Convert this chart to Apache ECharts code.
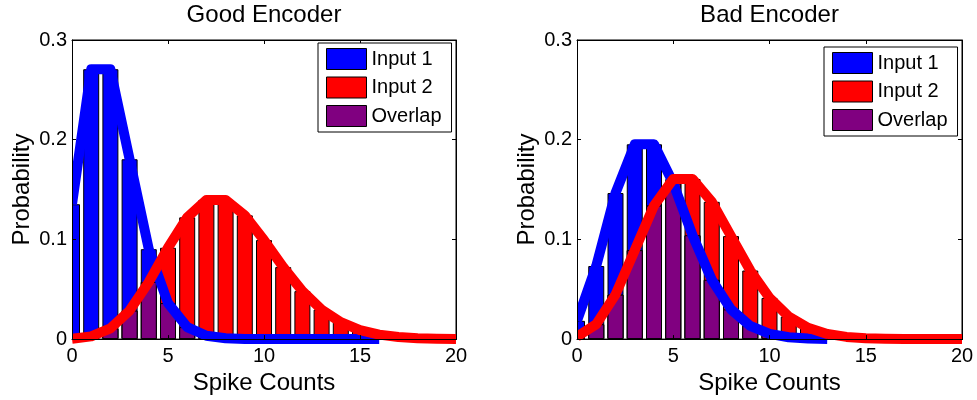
<!DOCTYPE html>
<html>
<head>
<meta charset="utf-8">
<script src="https://cdn.jsdelivr.net/npm/echarts@6/dist/echarts.min.js"></script>
<style>
  html, body { margin: 0; padding: 0; background: #fff; }
  #chart { width: 977px; height: 400px; }
</style>
</head>
<body>
<div id="chart"></div>
<script>
// Spike counts on the x axis
const counts = [0, 1, 2, 3, 4, 5, 6, 7, 8, 9, 10, 11, 12, 13, 14, 15, 16, 17, 18, 19, 20];

// Good encoder: response probabilities for each input
const goodInput1 = [0.1353, 0.2707, 0.2707, 0.1804, 0.0902, 0.0361, 0.0120, 0.0034, 0.0009, 0.0002,
                    0.0000, 0.0000, 0.0000, 0.0000, 0.0000, 0.0000, 0.0000];
const goodInput2 = [0.0003, 0.0027, 0.0107, 0.0286, 0.0573, 0.0916, 0.1221, 0.1396, 0.1396, 0.1241,
                    0.0993, 0.0722, 0.0481, 0.0296, 0.0169, 0.0090, 0.0045, 0.0021, 0.0009, 0.0004, 0.0002];

// Bad encoder: response probabilities for each input
const badInput1 = [0.0183, 0.0733, 0.1465, 0.1954, 0.1954, 0.1563, 0.1042, 0.0595, 0.0298, 0.0132,
                   0.0053, 0.0019, 0.0006, 0.0002];
const badInput2 = [0.0025, 0.0149, 0.0446, 0.0892, 0.1339, 0.1606, 0.1606, 0.1377, 0.1033, 0.0688,
                   0.0413, 0.0225, 0.0113, 0.0052, 0.0022, 0.0009, 0.0003, 0.0001, 0.0000, 0.0000, 0.0000];

// Tick labels
const xTicks = [0, 5, 10, 15, 20];
const yTicks = [0, 0.1, 0.2, 0.3];

const panelTitles = ['Good Encoder', 'Bad Encoder'];
const legendNames = ['Input 1', 'Input 2', 'Overlap'];

const FONT = "'Liberation Sans', Arial, Helvetica, sans-serif";
const BLUE = '#0000FF', RED = '#FF0000', PURPLE = '#800080';
const CURVE_WIDTH = 10;

const grids = [
  { left: 72, top: 40, width: 384, height: 305 },
  { left: 577, top: 40, width: 385, height: 305 }
];

const chart = echarts.init(document.getElementById('chart'), null, { renderer: 'canvas' });

const at = (arr, i) => (i < arr.length ? arr[i] : 0);

function panelSeries(gi, p1, p2) {
  const common = { xAxisIndex: gi, yAxisIndex: gi, silent: true, animation: false };
  const bar = (name, data, color) => Object.assign({
    type: 'bar', name, data, barWidth: 16, barGap: '-100%', clip: true,
    itemStyle: { color, borderColor: '#000', borderWidth: 1 }, z: 2
  }, common);
  const line = (name, arr, color) => Object.assign({
    type: 'line', name, data: arr.map((v, i) => [counts[i], v]),
    symbol: 'none', showSymbol: false, clip: true,
    lineStyle: { color, width: CURVE_WIDTH, join: 'round', cap: 'butt' }, z: 3
  }, common);
  return [
    bar('Input 1', counts.map(k => [k, at(p1, k)]), BLUE),
    bar('Input 2', counts.map(k => [k, at(p2, k)]), RED),
    bar('Overlap', counts.map(k => [k, Math.min(at(p1, k), at(p2, k))]), PURPLE),
    line('Input 1 curve', p1, BLUE),
    line('Input 2 curve', p2, RED)
  ];
}

function xAxisFor(gi, position, labels) {
  return {
    type: 'value', gridIndex: gi, position, z: 200,
    min: xTicks[0], max: xTicks[xTicks.length - 1], interval: xTicks[1] - xTicks[0],
    axisLine: { show: true, onZero: false, lineStyle: { color: '#000', width: 1 } },
    axisTick: { show: true, inside: true, length: 4, lineStyle: { color: '#000' } },
    splitLine: { show: false },
    axisLabel: { show: labels, color: '#000', fontSize: 20, fontFamily: FONT, margin: 7 },
    name: labels ? 'Spike Counts' : '', nameLocation: 'middle', nameGap: 28,
    nameTextStyle: { color: '#000', fontSize: 24, fontFamily: FONT }
  };
}
function yAxisFor(gi, position, labels) {
  return {
    type: 'value', gridIndex: gi, position, z: 200,
    min: yTicks[0], max: yTicks[yTicks.length - 1], interval: yTicks[1] - yTicks[0],
    axisLine: { show: true, onZero: false, lineStyle: { color: '#000', width: 1 } },
    axisTick: { show: true, inside: true, length: 4, lineStyle: { color: '#000' } },
    splitLine: { show: false },
    axisLabel: { show: labels, color: '#000', fontSize: 20, fontFamily: FONT, margin: 5 },
    name: labels ? 'Probability' : '', nameLocation: 'middle', nameGap: 38,
    nameTextStyle: { color: '#000', fontSize: 24, fontFamily: FONT }
  };
}

function legendFor(left, top) {
  return {
    data: legendNames, orient: 'vertical', left, top, z: 300,
    icon: 'rect', itemWidth: 40, itemHeight: 21, itemGap: 6.5,
    padding: [5, 10, 5, 8], selectedMode: false,
    borderColor: '#000', borderWidth: 1, backgroundColor: '#fff',
    itemStyle: { borderColor: '#000', borderWidth: 1 },
    textStyle: { color: '#000', fontSize: 20, fontFamily: FONT, padding: [0, 0, 0, 0] }
  };
}

// White strips that trim bars and thick curves where they run past the axes box
function trims(g) {
  const r = g.left + g.width, b = g.top + g.height;
  const s = { fill: '#fff' };
  return [
    { type: 'rect', z: 100, silent: true, shape: { x: g.left - 10, y: g.top - 6, width: 10, height: g.height + 13 }, style: s },
    { type: 'rect', z: 100, silent: true, shape: { x: r + 1, y: g.top - 6, width: 10, height: g.height + 13 }, style: s },
    { type: 'rect', z: 100, silent: true, shape: { x: g.left - 10, y: b + 1, width: g.width + 21, height: 6 }, style: s }
  ];
}

function titleText(g, text) {
  return {
    type: 'text', z: 100, silent: true,
    x: g.left + g.width / 2, y: 15,
    style: { text, fill: '#000', font: '24px ' + FONT, align: 'center', verticalAlign: 'middle' }
  };
}

const option = {
  backgroundColor: '#fff',
  animation: false,
  grid: grids.map(g => Object.assign({
    containLabel: false, show: true, borderColor: '#000', borderWidth: 1, backgroundColor: 'transparent'
  }, g)),
  xAxis: [xAxisFor(0, 'bottom', true), xAxisFor(1, 'bottom', true), xAxisFor(0, 'top', false), xAxisFor(1, 'top', false)],
  yAxis: [yAxisFor(0, 'left', true), yAxisFor(1, 'left', true), yAxisFor(0, 'right', false), yAxisFor(1, 'right', false)],
  legend: [legendFor(318, 43), legendFor(824, 47)],
  graphic: [
    ...trims(grids[0]), ...trims(grids[1]),
    titleText(grids[0], panelTitles[0]), titleText(grids[1], panelTitles[1])
  ],
  series: [...panelSeries(0, goodInput1, goodInput2), ...panelSeries(1, badInput1, badInput2)]
};

chart.setOption(option);
</script>
</body>
</html>
